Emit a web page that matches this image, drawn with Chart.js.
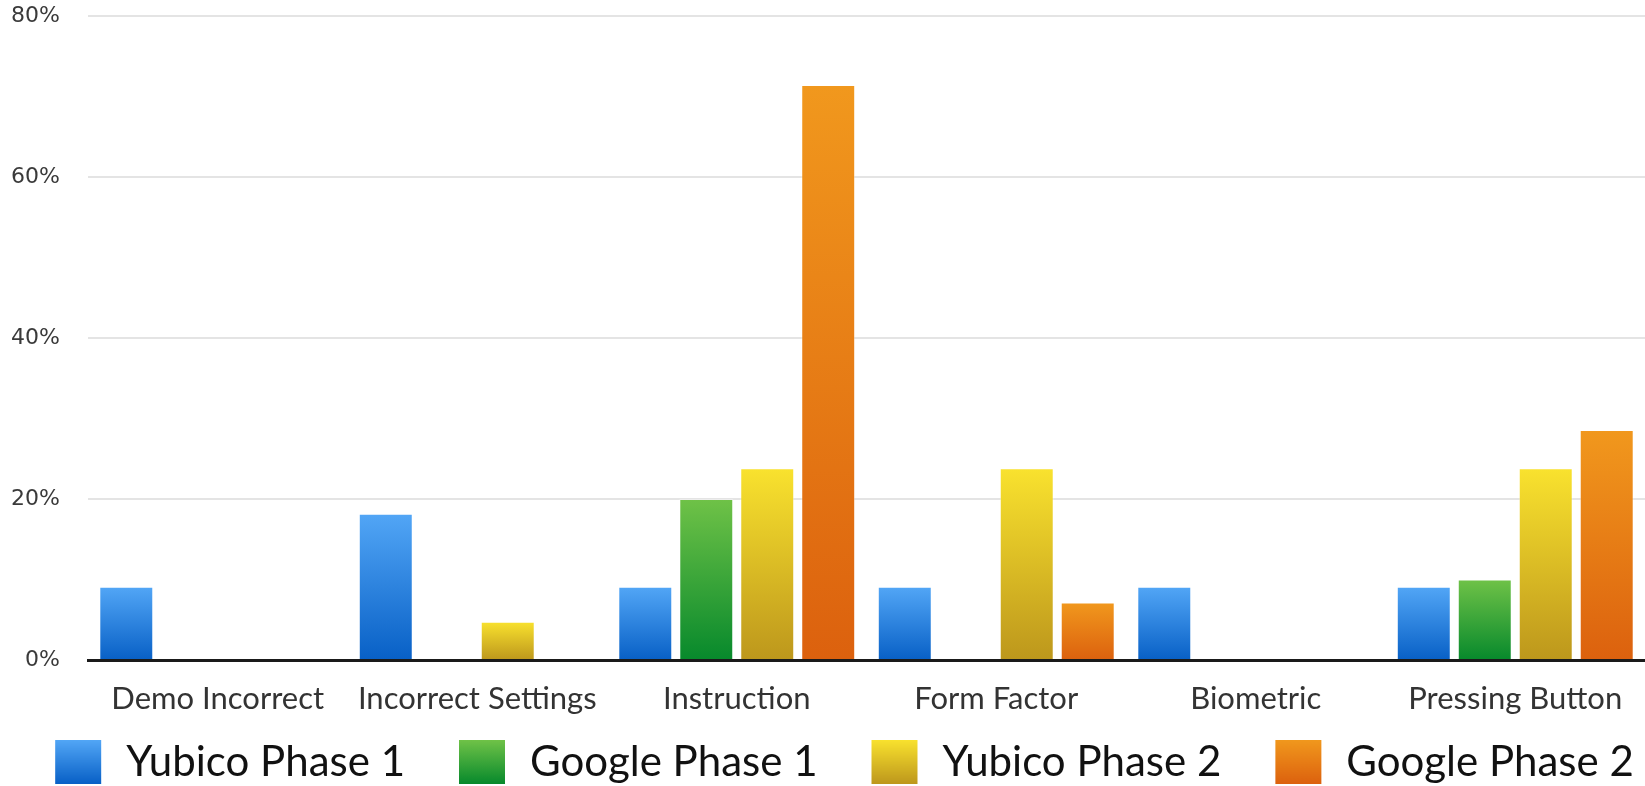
<!DOCTYPE html>
<html>
<head>
<meta charset="utf-8">
<script src="https://cdn.jsdelivr.net/npm/chart.js@4.4.1/dist/chart.umd.min.js"></script>
<style>
  html, body { margin: 0; padding: 0; background: #fff; }
  #wrap { width: 1645px; height: 786px; position: relative; }
</style>
</head>
<body>
<div id="wrap"><canvas id="chart"></canvas></div>
<script>
const categories = ['Demo Incorrect', 'Incorrect Settings', 'Instruction', 'Form Factor', 'Biometric', 'Pressing Button'];
const seriesNames = ['Yubico Phase 1', 'Google Phase 1', 'Yubico Phase 2', 'Google Phase 2'];
const yubicoPhase1 = [9.09, 18.18, 9.09, 9.09, 9.09, 9.09];
const googlePhase1 = [0, 0, 20, 0, 0, 10];
const yubicoPhase2 = [0, 4.76, 23.81, 23.81, 0, 23.81];
const googlePhase2 = [0, 0, 71.43, 7.14, 0, 28.57];
const yTicks = [0, 20, 40, 60, 80];

// top / bottom colour of each series gradient
const PALETTE = [
  ['#52a6f6', '#0860c6'],
  ['#6fc247', '#07892c'],
  ['#f9e22e', '#bd971c'],
  ['#f1981d', '#dc610e']
];

// legend swatch: transparent lead-in, then the coloured box
const LEGEND_LEAD = 44;
const LEGEND_BOX_W = 46;
const LEGEND_BOX_H = 44;
const LEGEND_IMG_W = LEGEND_LEAD + LEGEND_BOX_W + 4;

function barGradient(i) {
  return (ctx) => {
    const y = ctx.chart.scales && ctx.chart.scales.y;
    if (ctx.type !== 'data' || !y || !ctx.chart.chartArea) return PALETTE[i][1];
    const top = y.getPixelForValue(ctx.raw);
    const bottom = y.getPixelForValue(0);
    const g = ctx.chart.ctx.createLinearGradient(0, top, 0, Math.max(bottom, top + 1));
    g.addColorStop(0, PALETTE[i][0]);
    g.addColorStop(1, PALETTE[i][1]);
    return g;
  };
}

function legendSwatch(i) {
  const c = document.createElement('canvas');
  c.width = LEGEND_IMG_W;
  c.height = LEGEND_BOX_H;
  const g2 = c.getContext('2d');
  const g = g2.createLinearGradient(0, 0, 0, LEGEND_BOX_H);
  g.addColorStop(0, PALETTE[i][0]);
  g.addColorStop(1, PALETTE[i][1]);
  g2.fillStyle = g;
  g2.fillRect(LEGEND_LEAD, 0, LEGEND_BOX_W, LEGEND_BOX_H);
  return c;
}

const seriesData = [yubicoPhase1, googlePhase1, yubicoPhase2, googlePhase2];
const swatches = seriesNames.map((_, i) => legendSwatch(i));

new Chart(document.getElementById('chart'), {
  type: 'bar',
  data: {
    labels: categories,
    datasets: seriesNames.map((name, i) => ({
      label: name,
      data: seriesData[i],
      backgroundColor: barGradient(i),
      borderColor: 'rgba(255,255,255,0.35)',
      borderWidth: 1,
      categoryPercentage: 0.94,
      barPercentage: 0.885
    }))
  },
  options: {
    responsive: true,
    maintainAspectRatio: false,
    animation: false,
    events: [],
    layout: { padding: { left: 0, right: 0, top: 16, bottom: -7 } },
    scales: {
      x: {
        grid: { display: false, drawTicks: false },
        border: { display: true, color: '#1a1a1a', width: 3 },
        ticks: { color: '#333', padding: 20, font: { family: 'Lato', size: 31 } },
        afterFit: (s) => { s.height = 71; s.paddingLeft = 0; s.paddingRight = 0; }
      },
      y: {
        min: 0,
        max: 80,
        afterBuildTicks: (axis) => { axis.ticks = yTicks.map(v => ({ value: v })); },
        afterFit: (s) => { s.width = 88; s.paddingTop = 0; s.paddingBottom = 0; },
        grid: { color: '#e4e4e4', lineWidth: 2, drawTicks: false },
        border: { display: false },
        ticks: {
          color: '#3a3a3a',
          padding: 28,
          font: { family: 'DejaVu Sans', size: 22 },
          callback: (v) => v + '%'
        }
      }
    },
    plugins: {
      tooltip: { enabled: false },
      legend: {
        position: 'bottom',
        labels: {
          usePointStyle: true,
          pointStyleWidth: LEGEND_IMG_W,
          padding: 10,
          color: '#111',
          font: { family: 'Lato', size: 42 },
          generateLabels: () => seriesNames.map((text, i) => ({
            text,
            pointStyle: swatches[i],
            fillStyle: PALETTE[i][1],
            strokeStyle: 'transparent',
            lineWidth: 0,
            hidden: false,
            datasetIndex: i,
            fontColor: '#111'
          }))
        }
      }
    }
  }
});
</script>
</body>
</html>
